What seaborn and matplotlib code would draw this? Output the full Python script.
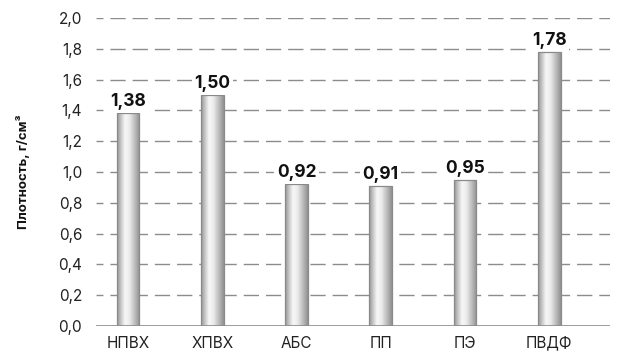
import numpy as np
import matplotlib
matplotlib.use("Agg")
import matplotlib.pyplot as plt
import seaborn as sns
import pandas as pd
from matplotlib.colors import LinearSegmentedColormap

categories = ["НПВХ", "ХПВХ", "АБС", "ПП", "ПЭ", "ПВДФ"]
values = [1.38, 1.50, 0.92, 0.91, 0.95, 1.78]
labels = ["1,38", "1,50", "0,92", "0,91", "0,95", "1,78"]
yticks = [0.0, 0.2, 0.4, 0.6, 0.8, 1.0, 1.2, 1.4, 1.6, 1.8, 2.0]
ytick_labels = ["0,0", "0,2", "0,4", "0,6", "0,8", "1,0", "1,2", "1,4", "1,6", "1,8", "2,0"]

sns.set_theme(style="white")
plt.rcParams['font.family'] = ['Inter', 'DejaVu Sans']

df = pd.DataFrame({"cat": categories, "val": values})

fig = plt.figure(figsize=(6.17, 3.51), dpi=100)
ax = fig.add_axes([96/617, 1-326/351, (610-96)/617, (326-18)/351])

sns.barplot(data=df, x="cat", y="val", ax=ax, width=0.27, color="#dddddd",
            edgecolor="#8a8a8a", linewidth=0.9, zorder=3)

cmap = LinearSegmentedColormap.from_list("g", [(0, "#959595"), (0.35, "#f8f8f8"), (0.55, "#ebebeb"), (1, "#909090")])
grad = np.linspace(0, 1, 256).reshape(1, -1)
for p in ax.patches:
    x0, y0 = p.get_x(), p.get_y()
    w, h = p.get_width(), p.get_height()
    im = ax.imshow(grad, cmap=cmap, extent=[x0, x0 + w, y0, y0 + h],
                   aspect="auto", zorder=3.5, interpolation="bicubic")
    im.set_clip_path(p)
    p.set_facecolor("none")
    p.set_zorder(4)

for i, (v, lab) in enumerate(zip(values, labels)):
    ax.text(i, v + 0.02, lab, ha="center", va="bottom", fontsize=12.5,
            fontweight="bold", color="#111111", zorder=5,
            bbox=dict(boxstyle="square,pad=0.15", facecolor="white", edgecolor="none"))

ax.set_xlim(-0.38, 5.72)
ax.set_ylim(0, 2.0)
ax.set_yticks(yticks)
ax.set_yticklabels(ytick_labels, fontsize=11, color="#222222")
ax.tick_params(axis="x", labelsize=11, colors="#222222", length=0, pad=7)
ax.tick_params(axis="y", length=0, pad=10)
for t in yticks[1:]:
    ax.axhline(t, color="#8c8c8c", linewidth=1.0, linestyle=(6, (11, 5)), zorder=1)
ax.axhline(0, color="#8c8c8c", linewidth=1.2, zorder=5)
for s in ax.spines.values():
    s.set_visible(False)
ax.set_xlabel("")
ax.set_ylabel("Плотность, г/см³", fontsize=9.5, fontweight="bold", color="#111111", labelpad=20)

fig.savefig("out.png", dpi=100)
